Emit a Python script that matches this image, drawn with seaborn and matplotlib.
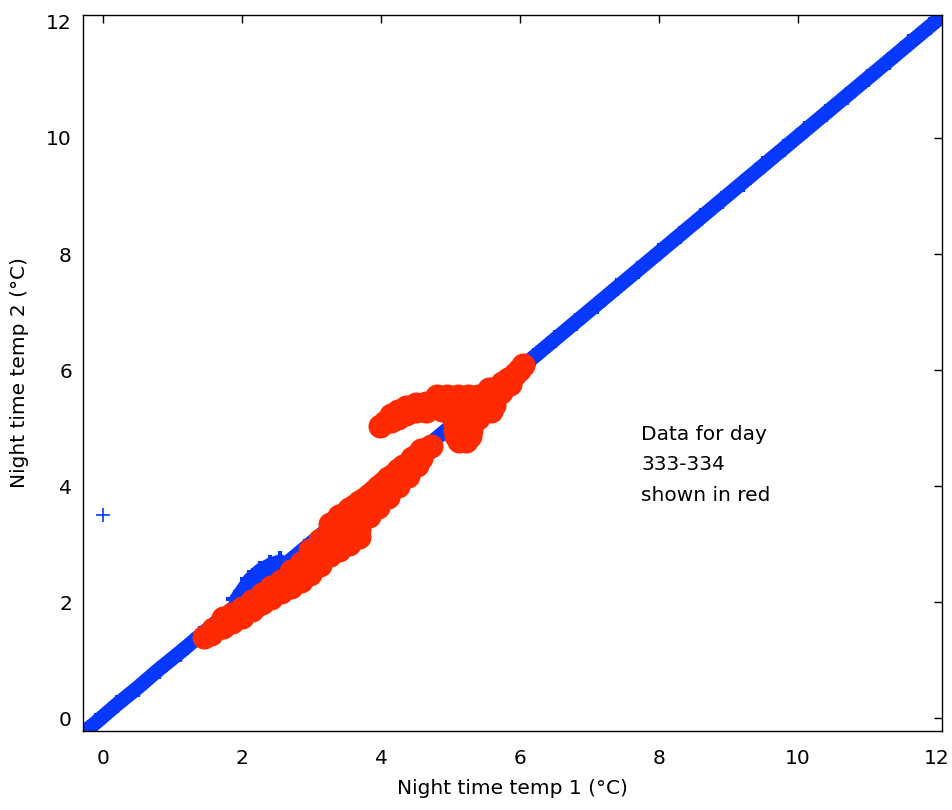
import numpy as np
import pandas as pd
import seaborn as sns
import matplotlib.pyplot as plt

# blue: all nights (read along the diagonal)
blue_x = [-0.28, -0.1, 0.2, 0.5, 0.8, 1.1, 1.4, 1.7, 2.0, 2.3, 2.6, 2.9, 3.2, 3.5,
          3.8, 4.1, 4.4, 4.7, 5.0, 5.3, 5.6, 5.9, 6.2, 6.5, 6.8, 7.1, 7.4, 7.7,
          8.0, 8.3, 8.6, 8.9, 9.2, 9.5, 9.8, 10.1, 10.4, 10.7, 11.0, 11.3, 11.6,
          11.9, 12.07]
blue_y = [-0.24, -0.07, 0.24, 0.53, 0.84, 1.13, 1.43, 1.73, 2.03, 2.33, 2.63, 2.93,
          3.23, 3.53, 3.83, 4.13, 4.43, 4.73, 5.03, 5.33, 5.63, 5.93, 6.23, 6.53,
          6.83, 7.13, 7.43, 7.73, 8.03, 8.33, 8.63, 8.93, 9.23, 9.53, 9.83, 10.13,
          10.43, 10.73, 11.03, 11.33, 11.63, 11.93, 12.1]
# bump above the red band and the lone outlier
bump_x = [1.9, 2.1, 2.25, 2.4, 2.55]
bump_y = [2.05, 2.4, 2.56, 2.66, 2.72]
outlier_x = [0.0]
outlier_y = [3.5]

# red: day 333-334, lower band
band_x = [1.45, 1.55, 1.58, 1.65, 1.72, 1.72, 1.79, 1.86, 1.86, 1.93,
          2.00, 2.00, 2.07, 2.14, 2.14, 2.21, 2.28, 2.28, 2.35,
          2.42, 2.42, 2.49, 2.56, 2.56, 2.63,
          2.70, 2.70, 2.70, 2.77, 2.84, 2.84, 2.84, 2.91,
          2.98, 2.98, 2.98, 2.98, 3.05, 3.12, 3.12, 3.12, 3.12,
          3.19, 3.26, 3.26, 3.26, 3.26, 3.26,
          3.33, 3.33, 3.40, 3.40, 3.40, 3.40, 3.40,
          3.47, 3.47, 3.54, 3.54, 3.54, 3.54, 3.54,
          3.61, 3.61, 3.68, 3.68, 3.68, 3.68, 3.68,
          3.75, 3.75, 3.82, 3.82, 3.82, 3.89, 3.89, 3.96, 3.96, 3.96,
          4.03, 4.03, 4.10, 4.10, 4.10, 4.17, 4.17, 4.24, 4.24, 4.24,
          4.31, 4.31, 4.38, 4.38, 4.45, 4.45, 4.52, 4.52, 4.58, 4.58,
          4.64, 4.72]
band_y = [1.40, 1.45, 1.54, 1.55, 1.58, 1.72, 1.68, 1.66, 1.80, 1.76,
          1.74, 1.90, 1.84, 1.86, 2.02, 1.96, 1.98, 2.14, 2.08,
          2.08, 2.26, 2.18, 2.18, 2.36, 2.30,
          2.26, 2.40, 2.54, 2.46, 2.36, 2.52, 2.68, 2.58,
          2.48, 2.62, 2.76, 2.90, 2.74, 2.64, 2.78, 2.92, 3.08,
          2.90, 2.82, 2.96, 3.10, 3.24, 3.34,
          3.10, 3.38, 2.90, 3.04, 3.18, 3.32, 3.48,
          3.22, 3.52, 3.00, 3.14, 3.28, 3.42, 3.60,
          3.36, 3.66, 3.12, 3.26, 3.40, 3.54, 3.72,
          3.56, 3.78, 3.48, 3.64, 3.84, 3.72, 3.92, 3.64, 3.80, 3.98,
          3.88, 4.06, 3.82, 3.96, 4.14, 4.05, 4.20, 4.00, 4.12, 4.28,
          4.18, 4.34, 4.18, 4.36, 4.34, 4.48, 4.36, 4.54, 4.48, 4.62,
          4.64, 4.70]
# hook reaching back to the left
hook_x = [3.98, 4.06, 4.14, 4.14, 4.24, 4.24, 4.36, 4.36, 4.50, 4.50, 4.64, 4.64]
hook_y = [5.04, 5.10, 5.12, 5.22, 5.18, 5.30, 5.24, 5.36, 5.30, 5.42, 5.30, 5.44]
# blob around 5 degC
blob_x = [4.80, 4.95, 5.10, 5.25, 5.40, 5.52,
          4.80, 4.95, 5.10, 5.25, 5.40, 5.55, 5.62,
          4.88, 5.02, 5.16, 5.30, 5.44, 5.58,
          5.04, 5.16, 5.28, 5.40,
          5.06, 5.18, 5.29, 5.06, 5.18, 5.29,
          5.08, 5.20, 5.28, 5.12, 5.22]
blob_y = [5.56, 5.56, 5.56, 5.56, 5.56, 5.60,
          5.44, 5.44, 5.44, 5.44, 5.44, 5.44, 5.40,
          5.32, 5.32, 5.32, 5.32, 5.32, 5.30,
          5.20, 5.20, 5.20, 5.18,
          5.08, 5.08, 5.08, 4.96, 4.96, 4.96,
          4.86, 4.86, 4.86, 4.78, 4.78]
# tail joining the diagonal
tail_x = [5.55, 5.65, 5.72, 5.74, 5.82, 5.86, 5.92, 5.98, 6.04]
tail_y = [5.68, 5.70, 5.62, 5.78, 5.84, 5.76, 5.94, 6.00, 6.08]

red_x = band_x + hook_x + blob_x + tail_x
red_y = band_y + hook_y + blob_y + tail_y

blue = '#0638ff'
red = '#ff2a00'

sns.set_style("white")
plt.rcParams['font.family'] = ['DejaVu Sans']
plt.rcParams['font.size'] = 14.5
plt.rcParams['text.color'] = 'black'
plt.rcParams['axes.labelcolor'] = 'black'

fig = plt.figure(figsize=(9.53, 8.10), dpi=100)
ax = fig.add_axes([0.0871, 0.0975, 0.9014, 0.884])

sns.lineplot(x=blue_x, y=blue_y, sort=False, color=blue, lw=10.5, ax=ax,
             solid_capstyle='round', zorder=2)
sns.scatterplot(x=blue_x + bump_x, y=blue_y + bump_y, marker='+', s=170,
                color=blue, linewidth=3, ax=ax, zorder=2)
sns.lineplot(x=bump_x, y=bump_y, sort=False, color=blue, lw=9, ax=ax, zorder=2)
sns.scatterplot(x=outlier_x, y=outlier_y, marker='+', s=90, color=blue,
                linewidth=1.2, ax=ax, zorder=2)
sns.scatterplot(x=red_x, y=red_y, marker='o', s=300, color=red,
                edgecolor=red, linewidth=0, ax=ax, zorder=3)

ax.set_xlim(-0.29, 12.07)
ax.set_ylim(-0.22, 12.12)
ax.set_xticks(range(0, 13, 2))
ax.set_yticks(range(0, 13, 2))
ax.tick_params(direction='in', length=6, width=1, top=True, right=True,
               colors='black', labelsize=14.5)
ax.tick_params(axis='x', pad=13)
ax.tick_params(axis='y', pad=8)
for s in ax.spines.values():
    s.set_visible(True)
    s.set_color('black')
    s.set_linewidth(1)

ax.set_xlabel('Night time temp 1 (°C)', fontsize=14.5, labelpad=8)
ax.set_ylabel('Night time temp 2 (°C)', fontsize=14.5, labelpad=12)

ax.text(7.74, 5.05, 'Data for day\n333-334\nshown in red', fontsize=14.5,
        va='top', ha='left', linespacing=1.75)

fig.savefig('out.png', dpi=100)
